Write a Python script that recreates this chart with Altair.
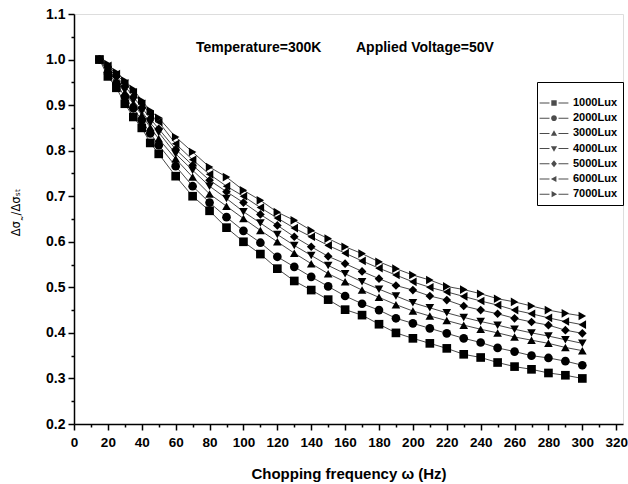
import altair as alt
import pandas as pd

# ---------------- data ----------------
freq = [15, 20, 25, 30, 35, 40, 45, 50, 60, 70, 80, 90, 100, 110, 120, 130, 140,
        150, 160, 170, 180, 190, 200, 210, 220, 230, 240, 250, 260, 270, 280, 290, 300]

series_names = ["1000Lux", "2000Lux", "3000Lux", "4000Lux", "5000Lux", "6000Lux", "7000Lux"]

lux1000 = [1.000, 0.963, 0.938, 0.903, 0.874, 0.850, 0.817, 0.793, 0.744, 0.700, 0.668,
           0.631, 0.600, 0.573, 0.541, 0.514, 0.494, 0.473, 0.451, 0.439, 0.419, 0.400,
           0.388, 0.377, 0.366, 0.353, 0.346, 0.335, 0.326, 0.320, 0.312, 0.307, 0.300]
lux2000 = [1.000, 0.972, 0.948, 0.918, 0.893, 0.867, 0.838, 0.812, 0.766, 0.722, 0.686,
           0.654, 0.624, 0.598, 0.567, 0.545, 0.523, 0.502, 0.481, 0.464, 0.450, 0.432,
           0.421, 0.410, 0.399, 0.388, 0.379, 0.367, 0.359, 0.350, 0.345, 0.338, 0.329]
lux3000 = [1.000, 0.975, 0.953, 0.927, 0.903, 0.878, 0.851, 0.826, 0.782, 0.742, 0.705,
           0.678, 0.651, 0.625, 0.600, 0.575, 0.552, 0.530, 0.512, 0.494, 0.478, 0.462,
           0.448, 0.437, 0.427, 0.417, 0.408, 0.400, 0.391, 0.384, 0.377, 0.368, 0.361]
lux4000 = [1.000, 0.978, 0.958, 0.933, 0.910, 0.886, 0.861, 0.840, 0.793, 0.757, 0.722,
           0.695, 0.666, 0.641, 0.616, 0.592, 0.570, 0.548, 0.530, 0.512, 0.496, 0.481,
           0.466, 0.455, 0.444, 0.434, 0.425, 0.417, 0.408, 0.400, 0.393, 0.385, 0.377]
lux5000 = [1.000, 0.982, 0.963, 0.942, 0.918, 0.895, 0.870, 0.848, 0.803, 0.768, 0.735,
           0.710, 0.686, 0.660, 0.636, 0.611, 0.589, 0.568, 0.552, 0.535, 0.519, 0.504,
           0.494, 0.481, 0.472, 0.459, 0.450, 0.442, 0.432, 0.424, 0.417, 0.406, 0.399]
lux6000 = [1.000, 0.986, 0.968, 0.948, 0.928, 0.903, 0.880, 0.863, 0.815, 0.780, 0.748,
           0.722, 0.700, 0.675, 0.652, 0.630, 0.611, 0.592, 0.575, 0.558, 0.542, 0.527,
           0.512, 0.500, 0.490, 0.480, 0.470, 0.461, 0.450, 0.442, 0.433, 0.425, 0.418]
lux7000 = [1.000, 0.990, 0.972, 0.954, 0.935, 0.910, 0.888, 0.872, 0.830, 0.797, 0.764,
           0.742, 0.713, 0.691, 0.665, 0.647, 0.625, 0.607, 0.589, 0.574, 0.556, 0.541,
           0.527, 0.516, 0.502, 0.495, 0.486, 0.475, 0.468, 0.459, 0.450, 0.443, 0.437]

x_tick_values = [0, 10, 20, 30, 40, 50, 60, 70, 80, 90, 100, 110, 120, 130, 140, 150, 160,
                 170, 180, 190, 200, 210, 220, 230, 240, 250, 260, 270, 280, 290, 300, 310, 320]
y_tick_values = [0.2, 0.25, 0.3, 0.35, 0.4, 0.45, 0.5, 0.55, 0.6, 0.65, 0.7, 0.75, 0.8,
                 0.85, 0.9, 0.95, 1.0, 1.05, 1.1]

annot_texts = ["Temperature=300K", "Applied Voltage=50V"]
x_title = "Chopping frequency \u03c9 (Hz)"
y_title = "\u0394\u03c3\u02f7/\u0394\u03c3\u209b\u209c"

# ---------------- build table ----------------
all_series = [lux1000, lux2000, lux3000, lux4000, lux5000, lux6000, lux7000]
rows = []
for name, vals in zip(series_names, all_series):
    for f, v in zip(freq, vals):
        rows.append({"freq": f, "ratio": v, "series": name})
df = pd.DataFrame(rows)

FONT = "Liberation Sans"

xscale = alt.Scale(domain=[0, 324], nice=False, zero=False)
yscale = alt.Scale(domain=[0.2, 1.1], nice=False, zero=False)

xaxis = alt.Axis(
    values=x_tick_values,
    labelExpr="datum.value % 20 === 0 ? datum.label : ''",
    tickSize={"condition": {"test": "datum.value % 20 === 0", "value": 6}, "value": 3},
    grid=False, domainColor="black", domainWidth=1.5, tickColor="black", tickWidth=1.5,
    labelFont=FONT, labelFontSize=13.5, labelFontWeight="bold", labelColor="black",
    labelPadding=5, labelFlush=False,
    titleFont=FONT, titleFontSize=15, titleFontWeight="bold", titleColor="black",
    titleY=49, titleBaseline="middle",
)
yaxis = alt.Axis(
    values=y_tick_values,
    format=".1f",
    labelExpr="round(datum.value * 20) % 2 === 0 ? datum.label : ''",
    tickSize={"condition": {"test": "round(datum.value * 20) % 2 === 0", "value": 6}, "value": 3},
    grid=False, domainColor="black", domainWidth=1.5, tickColor="black", tickWidth=1.5,
    labelFont=FONT, labelFontSize=14, labelFontWeight="bold", labelColor="black",
    labelPadding=3, labelFlush=False,
    titleFont="DejaVu Sans", titleFontSize=11.5, titleFontWeight="normal", titleColor="black",
    titleX=-58, titleY=198, titleAngle=270, titleBaseline="middle", titleAlign="center",
)

X = alt.X("freq:Q", scale=xscale, axis=xaxis, title=x_title)
Y = alt.Y("ratio:Q", scale=yscale, axis=yaxis, title=y_title)

base = alt.Chart(df)

lines = base.mark_line(color="#333333", strokeWidth=0.9).encode(
    x=X, y=Y, detail="series:N"
)

points = base.mark_point(filled=True, color="black", opacity=1, size=75).encode(
    x=X, y=Y,
    shape=alt.Shape("series:N",
                    scale=alt.Scale(domain=series_names,
                                    range=["square", "circle", "triangle-up", "triangle-down",
                                           "diamond", "triangle-left", "triangle-right"]),
                    legend=None),
)

seg = "M-2.4,-0.08H-0.75V0.08H-2.4ZM0.75,-0.08H2.4V0.08H0.75Z"
legend_paths = [
    seg + "M-0.45,-0.45H0.45V0.45H-0.45Z",
    seg + "M-0.48,0A0.48,0.48 0 1,0 0.48,0A0.48,0.48 0 1,0 -0.48,0Z",
    seg + "M0,-0.52L0.52,0.4H-0.52Z",
    seg + "M0,0.52L0.52,-0.4H-0.52Z",
    seg + "M0,-0.58L0.48,0L0,0.58L-0.48,0Z",
    seg + "M-0.52,0L0.4,-0.52V0.52Z",
    seg + "M0.52,0L-0.4,-0.52V0.52Z",
]

legend_layer = base.mark_point(filled=True, color="black", size=0).encode(
    x=X, y=Y,
    shape=alt.Shape("series:N",
                    scale=alt.Scale(domain=series_names, range=legend_paths),
                    legend=alt.Legend(
                        orient="none", legendX=463, legendY=68, title=" ",
                        titleFontSize=8, titlePadding=2,
                        direction="vertical",
                        labelFont=FONT, labelFontSize=11, labelFontWeight="bold",
                        labelColor="black", labelOffset=13,
                        symbolSize=144, symbolFillColor="black", symbolStrokeWidth=0,
                        symbolOffset=6, rowPadding=4.2, padding=5,
                        strokeColor="black",
                    )),
)

annot_df = pd.DataFrame({"label": annot_texts})
annot1 = alt.Chart(annot_df).transform_filter(
    alt.datum.label == annot_texts[0]
).mark_text(font=FONT, fontSize=14, fontWeight="bold", color="black",
            align="left", baseline="middle").encode(
    text="label:N", x=alt.value(122), y=alt.value(34)
)
annot2 = alt.Chart(annot_df).transform_filter(
    alt.datum.label == annot_texts[1]
).mark_text(font=FONT, fontSize=14, fontWeight="bold", color="black",
            align="left", baseline="middle").encode(
    text="label:N", x=alt.value(282), y=alt.value(34)
)

chart = alt.layer(lines, points, legend_layer, annot1, annot2).resolve_scale(
    shape="independent"
).properties(
    width=549, height=410,
    autosize=alt.AutoSizeParams(type="none"),
    padding={"left": 74, "top": 14, "right": 5, "bottom": 60},
).configure_view(stroke="#9a9a9a", strokeWidth=1).configure(background="white")

chart.save("out.html", embed_options={"renderer": "svg", "actions": False})
